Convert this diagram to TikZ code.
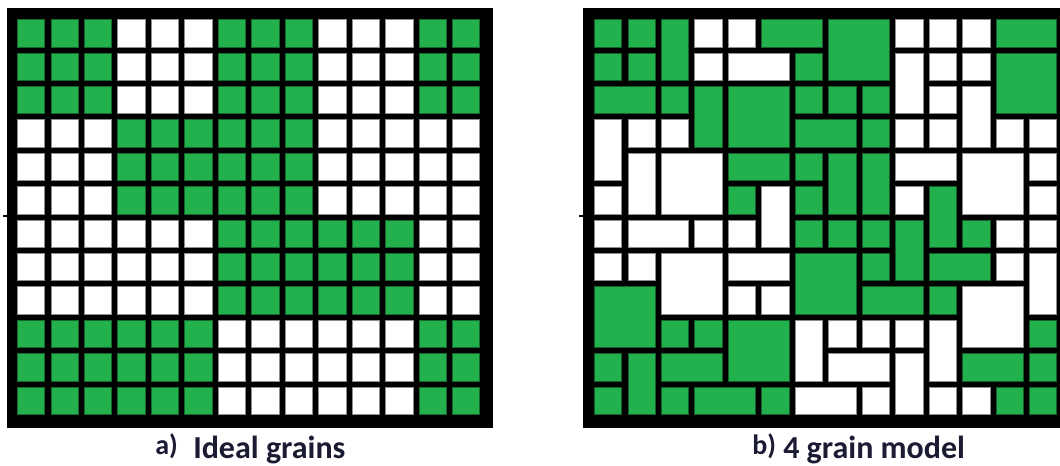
\documentclass[tikz,border=0pt]{standalone}
\usepackage{fontspec}
\setmainfont{Carlito}
\definecolor{grain}{HTML}{22B14C}
\definecolor{ink}{HTML}{1B1B33}
\tikzset{
  every node/.append style={font=\bfseries, text=ink, inner sep=0pt},
  cell/.style={line width=0.35pt},
  frm/.style={fill=black},
  tick/.style={line width=2.2pt, draw=black},
  capl/.style={font=\fontsize{21}{21}\selectfont\bfseries, anchor=base west},
  capt/.style={font=\fontsize{24}{24}\selectfont\bfseries, anchor=base west},
}
\begin{document}
\begin{tikzpicture}[x=0.75pt,y=-0.75pt]
  \clip (0,0) rectangle (1060,466);
  \fill[white] (0,0) rectangle (1060,466);
  \fill[frm] (6.7,8.3) rectangle (492.7,428.3);
  \fill[frm] (583.3,8.3) rectangle (1080,428.3);
  \draw[tick] (3,216) -- (8,216);
  \draw[tick] (579,216) -- (584,216);
  \foreach \r in {0,...,11}{
    \foreach \c in {0,...,13}{
      \path[cell, fill=white, draw=white!55!black]
        ({17.3+33.46*\c},{19.4+33.4*\r}) rectangle ++(27.4,27.4);
    }
  }
  \foreach \ra/\rb/\ca/\cb in {0/2/0/2, 0/2/6/8, 0/2/12/13, 3/5/3/8,
                               6/8/6/11, 9/11/0/5, 9/11/12/13}{
    \foreach \r in {\ra,...,\rb}{
      \foreach \c in {\ca,...,\cb}{
        \path[cell, fill=grain, draw=grain!60!black]
          ({17.3+33.46*\c},{19.4+33.4*\r}) rectangle ++(27.4,27.4);
      }
    }
  }
  \foreach \r/\c/\w/\h/\col in
     {0/0/1/1/grain, 0/1/1/1/grain, 0/2/1/2/grain, 0/3/1/1/white, 0/4/1/1/white,
      0/5/2/1/grain, 0/7/2/2/grain, 0/9/1/1/white, 0/10/1/1/white, 0/11/1/1/white,
      0/12/2/1/grain,
      1/0/1/1/grain, 1/1/1/1/grain, 1/3/1/1/white, 1/4/2/1/white, 1/6/1/1/grain,
      1/9/1/2/white, 1/10/1/1/white, 1/11/1/1/white, 1/12/2/2/grain,
      2/0/2/1/grain, 2/2/1/1/grain, 2/3/1/2/grain, 2/4/2/2/grain, 2/6/1/1/grain,
      2/7/1/1/grain, 2/8/1/1/grain, 2/10/1/1/white, 2/11/1/2/white,
      3/0/1/2/white, 3/1/1/1/white, 3/2/1/1/white, 3/6/2/1/grain, 3/8/1/1/grain,
      3/9/1/1/white, 3/10/1/1/white, 3/12/1/1/white, 3/13/1/1/white,
      4/1/1/2/white, 4/2/2/2/white, 4/4/2/1/grain, 4/6/1/1/grain, 4/7/1/2/grain,
      4/8/1/2/grain, 4/9/2/1/white, 4/11/2/2/white, 4/13/1/1/white,
      5/0/1/1/white, 5/4/1/1/grain, 5/5/1/2/white, 5/6/1/1/grain, 5/9/1/1/white,
      5/10/1/2/grain, 5/13/1/1/white,
      6/0/1/1/white, 6/1/2/1/white, 6/3/1/1/white, 6/4/1/1/white, 6/6/1/1/grain,
      6/7/1/1/grain, 6/8/1/1/grain, 6/9/1/2/grain, 6/11/1/1/grain, 6/12/1/1/white,
      6/13/1/1/white,
      7/0/1/1/white, 7/1/1/1/white, 7/2/2/2/white, 7/4/2/1/white, 7/6/2/2/grain,
      7/8/1/1/grain, 7/10/2/1/grain, 7/12/1/1/white, 7/13/1/2/white,
      8/0/2/2/grain, 8/4/1/1/white, 8/5/1/1/white, 8/8/2/1/grain, 8/10/1/1/grain,
      8/11/2/2/white,
      9/2/1/1/grain, 9/3/1/1/grain, 9/4/2/2/grain, 9/6/1/2/white, 9/7/1/1/white,
      9/8/1/1/white, 9/9/1/1/white, 9/10/1/2/white, 9/13/1/1/grain,
      10/0/1/1/grain, 10/1/1/2/grain, 10/2/2/1/grain, 10/7/2/1/white, 10/9/1/2/white,
      10/11/2/1/grain, 10/13/1/1/grain,
      11/0/1/1/grain, 11/2/1/1/grain, 11/3/2/1/grain, 11/5/1/1/grain, 11/6/2/1/white,
      11/8/1/1/white, 11/10/1/1/white, 11/11/1/1/white, 11/12/1/1/grain,
      11/13/1/1/grain}{
    \path[cell, fill=\col, draw=\col!55!black] ({594.3+33.46*\c},{19.4+33.4*\r})
      rectangle ++({33.46*\w-6.06},{33.4*\h-6});
  }
  \node[capl] (capa) at (155,454) {a)};
  \node[capt] (capatxt) at (193,458) {Ideal grains};
  \node[capl] (capb) at (752,454) {b)};
  \node[capt] (capbtxt) at (783,458) {4 grain model};
\end{tikzpicture}
\end{document}
